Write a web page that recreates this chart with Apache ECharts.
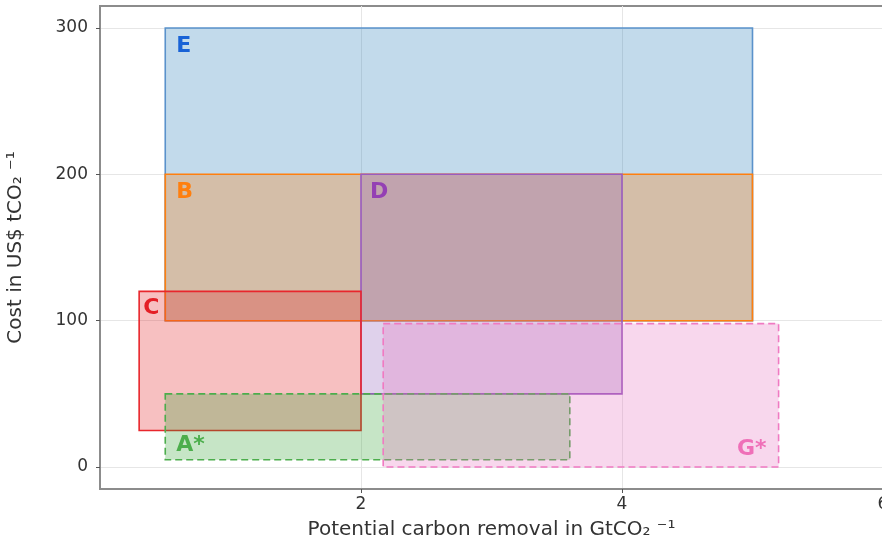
<!DOCTYPE html>
<html>
<head>
<meta charset="utf-8">
<script src="https://cdn.jsdelivr.net/npm/echarts@6/dist/echarts.min.js"></script>
<style>
html, body {margin: 0; padding: 0; background: #fff;}
#chart {width: 882px; height: 549px;}
</style>
</head>
<body>
<div id="chart"></div>
<script>
// boxes, in drawing order
var boxNames = ['E', 'B', 'D', 'C', 'A*', 'G*'];
var xFrom = [0.5, 0.5, 2.0, 0.3, 0.5, 2.17];
var xTo   = [5.0, 5.0, 4.0, 2.0, 3.6, 5.2];
var yFrom = [100, 100, 50, 25, 5, 0];
var yTo   = [300, 200, 200, 120, 50, 98];

var xTickLabels = [2, 4, 6];
var yTickLabels = [0, 100, 200, 300];

var font = '"DejaVu Sans", Verdana, sans-serif';

// look of each box: fill, border, label colour, where the label sits
var looks = {
	'E':  {fill: 'rgba(31,119,180,0.27)', line: '#5a92cb', label: '#1862d6', dash: false, corner: 'tl', dx: 11, dy: 7},
	'B':  {fill: 'rgba(255,127,14,0.30)', line: '#ff7f0e', label: '#ff7f0e', dash: false, corner: 'tl', dx: 11, dy: 7},
	'D':  {fill: 'rgba(148,103,189,0.30)', line: '#9a5cc0', label: '#9440b4', dash: false, corner: 'tl', dx: 9, dy: 7},
	'C':  {fill: 'rgba(230,45,50,0.30)', line: '#e8262c', label: '#e41f26', dash: false, corner: 'tl', dx: 4, dy: 6},
	'A*': {fill: 'rgba(44,160,44,0.27)', line: '#4cad4c', label: '#4cae4c', dash: true, corner: 'bl', dx: 11, dy: 3},
	'G*': {fill: 'rgba(230,110,190,0.28)', line: '#f07ac2', label: '#ef70b8', dash: true, corner: 'br', dx: 12, dy: 7}
};

function renderBox(params, api) {
	var name = boxNames[params.dataIndex];
	var s = looks[name];
	var p0 = api.coord([api.value(0), api.value(3)]);
	var p1 = api.coord([api.value(1), api.value(2)]);
	var tx, ty, align, vAlign;
	if (s.corner === 'tl') {
		tx = p0[0] + s.dx; ty = p0[1] + s.dy; align = 'left'; vAlign = 'top';
	} else if (s.corner === 'bl') {
		tx = p0[0] + s.dx; ty = p1[1] - s.dy; align = 'left'; vAlign = 'bottom';
	} else {
		tx = p1[0] - s.dx; ty = p1[1] - s.dy; align = 'right'; vAlign = 'bottom';
	}
	return {
		type: 'group',
		children: [{
			type: 'rect',
			shape: {x: p0[0], y: p0[1], width: p1[0] - p0[0], height: p1[1] - p0[1]},
			style: {fill: s.fill, stroke: s.line, lineWidth: 1.6, lineDash: s.dash ? [7, 4] : null}
		}, {
			type: 'text',
			z2: 100,
			x: tx,
			y: ty,
			style: {text: name, fill: s.label, font: 'bold 22px ' + font, align: align, verticalAlign: vAlign}
		}]
	};
}

var chart = echarts.init(document.getElementById('chart'));
chart.setOption({
	backgroundColor: '#fff',
	animation: false,
	grid: {
		left: 100, right: -1, top: 6, bottom: 60,
		outerBoundsMode: 'none',
		containLabel: false,
		show: true, borderColor: '#8c8c8c', borderWidth: 2
	},
	xAxis: {
		type: 'value',
		min: 0, max: 6, interval: 1,
		name: 'Potential carbon removal in GtCO\u2082 \u207B\u00B9',
		nameLocation: 'middle',
		nameGap: 31,
		nameTextStyle: {fontFamily: font, fontSize: 20, color: '#333'},
		axisLine: {onZero: false, lineStyle: {color: '#8c8c8c', width: 2}},
		axisTick: {customValues: xTickLabels, length: 4, lineStyle: {color: '#555'}},
		axisLabel: {customValues: xTickLabels, color: '#333', fontSize: 17, fontFamily: font, margin: 7, hideOverlap: false},
		splitLine: {lineStyle: {color: '#e6e6e6', width: 1}}
	},
	yAxis: {
		type: 'value',
		min: -15, max: 315, splitNumber: 6,
		name: 'Cost in US$ tCO\u2082 \u207B\u00B9',
		nameLocation: 'middle',
		nameGap: 74,
		nameTextStyle: {fontFamily: font, fontSize: 20, color: '#333'},
		axisLine: {onZero: false, lineStyle: {color: '#8c8c8c', width: 2}},
		axisTick: {customValues: yTickLabels, length: 4, lineStyle: {color: '#555'}},
		axisLabel: {customValues: yTickLabels, color: '#333', fontSize: 17, fontFamily: font, margin: 12},
		splitLine: {lineStyle: {color: '#e6e6e6', width: 1}}
	},
	series: [{
		type: 'custom',
		renderItem: renderBox,
		encode: {x: [0, 1], y: [2, 3]},
		data: boxNames.map(function (n, i) {
			return [xFrom[i], xTo[i], yFrom[i], yTo[i]];
		})
	}]
});
</script>
</body>
</html>
